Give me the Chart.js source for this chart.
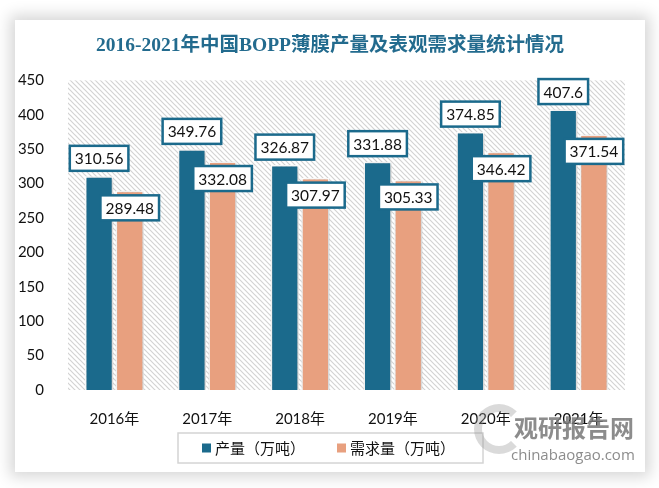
<!DOCTYPE html>
<html><head><meta charset="utf-8">
<script src="https://cdn.jsdelivr.net/npm/chart.js@4/dist/chart.umd.min.js"></script>
<style>
html,body{margin:0;padding:0;background:#fff;width:659px;height:488px;overflow:hidden;}
#card{position:absolute;left:15px;top:20px;width:630px;height:452px;background:#fff;box-shadow:0 0 14px 5px rgba(0,0,0,0.16);}
canvas{display:block;position:absolute;left:0;top:0;}
#logo{position:absolute;left:474px;top:404px;width:34px;height:34px;border-radius:50%;border:8px solid rgba(150,150,150,0.35);border-right-color:transparent;}
#wm1{position:absolute;left:514px;top:411px;font:bold 24px "Noto Sans CJK SC";color:rgba(120,120,120,0.85);line-height:32px;}
#wm2{position:absolute;left:511px;top:444px;font:15px "Open Sans";color:rgba(120,120,120,0.85);line-height:20px;}
</style></head>
<body>
<div id="card"><canvas id="c" width="630" height="452"></canvas></div>
<div id="logo"></div>
<div id="wm1">观研报告网</div>
<div id="wm2">chinabaogao.com</div>
<script>
const titleText = '2016-2021年中国BOPP薄膜产量及表观需求量统计情况';
const categories = ['2016年','2017年','2018年','2019年','2020年','2021年'];
const seriesNames = ['产量（万吨）','需求量（万吨）'];
const production = [310.56,349.76,326.87,331.88,374.85,407.6];
const demand = [289.48,332.08,307.97,305.33,346.42,371.54];
const yTicks = [0,50,100,150,200,250,300,350,400,450];

const BLUE = '#1b6a8c', SALMON = '#e8a07f';

const hatch = {
  id:'hatch',
  afterLayout(chart){
    if (chart.titleBlock) { chart.titleBlock.left = 0; chart.titleBlock.right = chart.width; }
  },
  beforeDraw(chart){
    const {ctx, chartArea:a} = chart;
    const n = 5;
    const p = document.createElement('canvas'); p.width=n; p.height=n;
    const c = p.getContext('2d');
    c.strokeStyle = '#d3d3d3'; c.lineWidth = 1.2;
    c.beginPath();
    c.moveTo(-n,0); c.lineTo(n,2*n);
    c.moveTo(0,0); c.lineTo(n,n);
    c.moveTo(0,-n); c.lineTo(2*n,n);
    c.stroke();
    ctx.save();
    ctx.fillStyle = '#fff';
    ctx.fillRect(a.left,a.top,a.right-a.left,a.bottom-a.top);
    ctx.fillStyle = ctx.createPattern(p,'repeat');
    ctx.fillRect(a.left,a.top,a.right-a.left,a.bottom-a.top);
    ctx.restore();
  },
  beforeDatasetsDraw(chart){
    const ctx = chart.ctx;
    ctx.save();
    ctx.shadowColor = 'rgba(0,0,0,0.25)';
    ctx.shadowBlur = 4; ctx.shadowOffsetX = 1; ctx.shadowOffsetY = 1;
  },
  afterDatasetsDraw(chart){
    const ctx = chart.ctx;
    ctx.restore();
    ctx.save();
    ctx.font = '15.5px Lato, "Liberation Sans", sans-serif';
    ctx.textAlign = 'center'; ctx.textBaseline = 'middle';
    chart.data.datasets.forEach((ds,di)=>{
      const meta = chart.getDatasetMeta(di);
      meta.data.forEach((el,i)=>{
        const txt = String(ds.data[i]);
        const w = ctx.measureText(txt).width + 10;
        const h = 25;
        const cx = el.x;
        const cy = di===0 ? el.y - 18 : el.y + 17;
        ctx.fillStyle = '#fff';
        ctx.fillRect(cx-w/2, cy-h/2, w, h);
        ctx.strokeStyle = BLUE; ctx.lineWidth = 2.5;
        ctx.strokeRect(cx-w/2, cy-h/2, w, h);
        ctx.fillStyle = '#111';
        ctx.fillText(txt, cx, cy+1);
      });
    });
    ctx.restore();
  },
  afterDraw(chart){
    const ctx = chart.ctx;
    ctx.save();
    const bx = 163, by = 413, bw = 305, bh = 30;
    ctx.strokeStyle = '#d4d4d4'; ctx.lineWidth = 1.5;
    ctx.strokeRect(bx, by, bw, bh);
    ctx.font = '15px "Noto Sans CJK SC"';
    ctx.textBaseline = 'middle'; ctx.textAlign = 'left';
    const cy = by + bh/2;
    const starts = [187, 322];
    chart.data.datasets.forEach((ds,di)=>{
      const x = starts[di];
      ctx.fillStyle = ds.backgroundColor;
      ctx.fillRect(x, cy-4.5, 9, 9);
      ctx.fillStyle = '#111';
      ctx.fillText(ds.label, x+13, cy);
    });
    ctx.restore();
  }
};

new Chart(document.getElementById('c'), {
  type:'bar',
  data:{
    labels: categories,
    datasets:[
      {label:seriesNames[0], data:production, backgroundColor:BLUE, borderColor:'#fff', borderWidth:1.5},
      {label:seriesNames[1], data:demand, backgroundColor:SALMON, borderColor:'#fff', borderWidth:1.5}
    ]
  },
  options:{
    responsive:false, animation:false,
    layout:{padding:{left:0,right:20,top:0,bottom:42}},
    categoryPercentage:0.66, barPercentage:0.92,
    plugins:{
      legend:{display:false},
      tooltip:{enabled:false},
      title:{display:true, text:titleText, color:'#236b8e',
        font:{size:19.5, weight:'bold', family:'"Liberation Serif","Noto Sans CJK SC"'},
        padding:{top:14,bottom:23}}
    },
    scales:{
      x:{grid:{display:false}, border:{display:false},
         afterFit(s){ s.height = 40; },
         ticks:{color:'#111', padding:12, font:{size:15, family:'Lato,"Noto Sans CJK SC"'}}},
      y:{min:0, max:450, grid:{display:false}, border:{display:false},
         afterFit(s){ s.width = 53; },
         afterBuildTicks(s){ s.ticks = yTicks.map(v=>({value:v})); },
         ticks:{color:'#111', padding:16, font:{size:15, family:'Lato'}}}
    }
  },
  plugins:[hatch]
});
</script>
</body></html>
